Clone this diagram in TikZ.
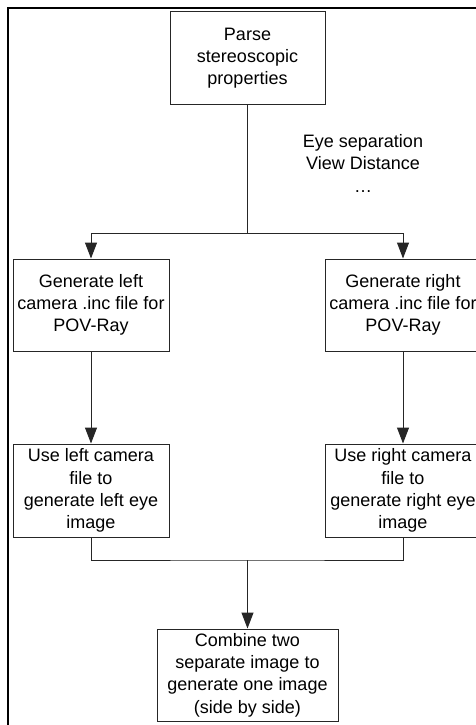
\documentclass[tikz,border=0pt]{standalone}
\usepackage{fontspec}
\setmainfont{Liberation Sans}
\usetikzlibrary{arrows.meta}
\begin{document}
\begin{tikzpicture}[x=1pt,y=-1pt,
  box/.style={draw=black!85,line width=1pt,fill=white,minimum width=156pt,minimum height=92pt,inner sep=2pt,align=center,
    font=\fontsize{18}{22.3}\selectfont},
  conn/.style={draw=black!85,line width=1pt},
  arr/.style={conn,-{Triangle[length=16pt,width=12pt]}}]
\clip (0,0) rectangle (476,725);
\fill[white] (0,0) rectangle (476,725);
\draw[line width=2.2pt] (8.3,800) -- (8.3,8.3) -- (560,8.3);
\node[box,minimum width=155pt] (top) at (247.5,58) {Parse\\stereoscopic\\properties};
\node[box] (gl) at (91,305) {Generate left\\camera .inc file for\\POV-Ray};
\node[box] (gr) at (403,305) {Generate right\\camera .inc file for\\POV-Ray};
\node[box,minimum height=93pt] (ul) at (91,490.5) {Use left camera\\file to\\generate left eye\\image};
\node[box,minimum height=93pt] (ur) at (403,490.5) {Use right camera\\file to\\generate right eye\\image};
\node[box,minimum width=181pt] (cb) at (247.5,675) {Combine two\\separate image to\\generate one image\\(side by side)};
\node[align=center,inner sep=0pt,font=\fontsize{18}{22.5}\selectfont] (lbl) at (363,163) {Eye separation\\View Distance\\…};
\coordinate (j1) at (247.5,233);
\coordinate (m1) at (247.5,560);
\draw[conn] (top.south) -- (j1);
\draw[arr] (j1) -| (gl.north);
\draw[arr] (j1) -| (gr.north);
\draw[arr] (gl.south) -- (ul.north);
\draw[arr] (gr.south) -- (ur.north);
\draw[conn] (ul.south) |- (m1) -| (ur.south);
\draw[arr] (m1) -- (cb.north);
\end{tikzpicture}
\end{document}
